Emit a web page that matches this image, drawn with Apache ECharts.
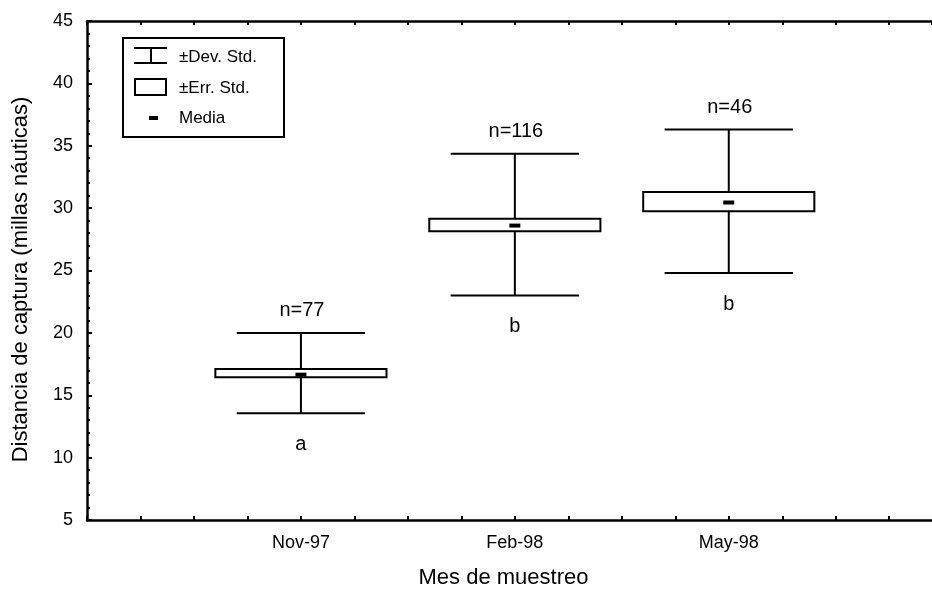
<!DOCTYPE html>
<html>
<head>
<meta charset="utf-8">
<script src="https://cdn.jsdelivr.net/npm/echarts@6/dist/echarts.min.js"></script>
<style>
  html, body { margin: 0; padding: 0; background: #fff; }
  #chart { width: 932px; height: 594px; }
</style>
</head>
<body>
<div id="chart"></div>
<script>
// Sampling months and where they sit along the x scale
const months = ['Nov-97', 'Feb-98', 'May-98'];
const monthPos = [4, 8, 12];

// Capture distance summaries (nautical miles)
const means  = [16.65, 28.6, 30.45];
const seLow  = [16.45, 28.15, 29.75];
const seHigh = [17.1, 29.15, 31.3];
const sdLow  = [13.55, 23.0, 24.8];
const sdHigh = [20.0, 34.35, 36.3];

// Sample sizes and significance groups
const nLabels = ['n=77', 'n=116', 'n=46'];
const groups  = ['a', 'b', 'b'];

// Y axis tick range
const yMin = 5, yMax = 45, yStep = 5;

const FONT = '"Liberation Sans", Arial, sans-serif';
const CAP_HALF = 1.2;   // whisker cap half-width (x units)
const BOX_HALF = 1.6;   // std-error box half-width (x units)

const whiskerData = months.map((m, i) => [monthPos[i], sdLow[i], sdHigh[i], i]);
const boxData     = months.map((m, i) => [monthPos[i], seLow[i], seHigh[i], i]);
const meanData    = months.map((m, i) => [monthPos[i], means[i]]);

const labelByPos = {};
monthPos.forEach((p, i) => { labelByPos[p] = months[i]; });

const chart = echarts.init(document.getElementById('chart'), null, { renderer: 'canvas' });

const lineStyle = { stroke: '#000', lineWidth: 2 };

chart.setOption({
  animation: false,
  backgroundColor: '#fff',
  textStyle: { fontFamily: FONT, color: '#000' },
  grid: { left: 87, top: 21, right: 0, height: 502, containLabel: false },
  xAxis: [
    {
      type: 'value', position: 'bottom', min: 0, max: 15.8, interval: 1,
      axisLine: { show: true, onZero: false, lineStyle: { color: '#000', width: 2.5 } },
      axisTick: { show: true, inside: true, length: 4, lineStyle: { color: '#000', width: 2 } },
      axisLabel: {
        show: true, margin: 14, fontSize: 18, color: '#000', fontFamily: FONT,
        showMaxLabel: false,
        formatter: v => labelByPos[v] || ''
      },
      splitLine: { show: false },
      name: 'Mes de muestreo', nameLocation: 'middle', nameGap: 47,
      nameTextStyle: { fontSize: 22, color: '#000', fontFamily: FONT, padding: [0, 12, 0, 0] }
    },
    {
      type: 'value', position: 'top', min: 0, max: 15.8, interval: 1,
      axisLine: { show: true, onZero: false, lineStyle: { color: '#000', width: 2.5 } },
      axisTick: { show: true, inside: true, length: 4, lineStyle: { color: '#000', width: 2 } },
      axisLabel: { show: false },
      splitLine: { show: false }
    }
  ],
  yAxis: {
    type: 'value', min: yMin, max: yMax, interval: yStep,
    axisLine: { show: true, onZero: false, lineStyle: { color: '#000', width: 2.5 } },
    axisTick: { show: true, inside: true, length: 5, lineStyle: { color: '#000', width: 2 } },
    minorTick: { show: true, splitNumber: 5, length: 3, lineStyle: { color: '#000', width: 2 } },
    axisLabel: { margin: 14, fontSize: 18, color: '#000', fontFamily: FONT },
    splitLine: { show: false },
    name: 'Distancia de captura (millas náuticas)', nameLocation: 'middle', nameGap: 55,
    nameTextStyle: { fontSize: 22, color: '#000', fontFamily: FONT, padding: [0, 18, 0, 0] }
  },
  series: [
    {
      // ± standard deviation whiskers, with sample size above and group letter below
      type: 'custom', xAxisIndex: 0,
      data: whiskerData,
      renderItem: (params, api) => {
        const x = api.value(0), lo = api.value(1), hi = api.value(2), i = api.value(3);
        const top = api.coord([x, hi]), bot = api.coord([x, lo]);
        const lt = api.coord([x - CAP_HALF, hi]), rt = api.coord([x + CAP_HALF, hi]);
        const lb = api.coord([x - CAP_HALF, lo]), rb = api.coord([x + CAP_HALF, lo]);
        return {
          type: 'group',
          children: [
            { type: 'line', shape: { x1: top[0], y1: top[1], x2: bot[0], y2: bot[1] }, style: lineStyle },
            { type: 'line', shape: { x1: lt[0], y1: lt[1], x2: rt[0], y2: rt[1] }, style: lineStyle },
            { type: 'line', shape: { x1: lb[0], y1: lb[1], x2: rb[0], y2: rb[1] }, style: lineStyle },
            { type: 'text', x: top[0] + 1, y: top[1] - 12,
              style: { text: nLabels[i], fill: '#000', font: '20px ' + FONT, align: 'center', verticalAlign: 'bottom' } },
            { type: 'text', x: bot[0], y: bot[1] + 21,
              style: { text: groups[i], fill: '#000', font: '20px ' + FONT, align: 'center', verticalAlign: 'top' } }
          ]
        };
      },
      z: 2
    },
    {
      // ± standard error boxes
      type: 'custom', xAxisIndex: 0,
      data: boxData,
      renderItem: (params, api) => {
        const x = api.value(0), lo = api.value(1), hi = api.value(2);
        const p1 = api.coord([x - BOX_HALF, hi]), p2 = api.coord([x + BOX_HALF, lo]);
        return {
          type: 'rect',
          shape: { x: p1[0], y: p1[1], width: p2[0] - p1[0], height: p2[1] - p1[1] },
          style: { fill: '#fff', stroke: '#000', lineWidth: 2 }
        };
      },
      z: 3
    },
    {
      // mean markers
      type: 'custom', xAxisIndex: 0,
      data: meanData,
      renderItem: (params, api) => {
        const c = api.coord([api.value(0), api.value(1)]);
        return {
          type: 'rect',
          shape: { x: c[0] - 5.5, y: c[1] - 2, width: 11, height: 4 },
          style: { fill: '#000' }
        };
      },
      z: 4
    }
  ],
  graphic: [
    {
      type: 'group', left: 122, top: 37,
      children: [
        { type: 'rect', shape: { x: 0, y: 0, width: 161, height: 99 },
          style: { fill: '#fff', stroke: '#000', lineWidth: 2 } },
        // std-dev icon
        { type: 'line', shape: { x1: 11, y1: 10, x2: 44, y2: 10 }, style: lineStyle },
        { type: 'line', shape: { x1: 11, y1: 25, x2: 44, y2: 25 }, style: lineStyle },
        { type: 'line', shape: { x1: 28, y1: 10, x2: 28, y2: 25 }, style: lineStyle },
        { type: 'text', x: 56, y: 19,
          style: { text: '±Dev. Std.', fill: '#000', font: '17px ' + FONT, verticalAlign: 'middle' } },
        // std-err icon
        { type: 'rect', shape: { x: 12, y: 41, width: 31, height: 16 },
          style: { fill: '#fff', stroke: '#000', lineWidth: 2 } },
        { type: 'text', x: 56, y: 50,
          style: { text: '±Err. Std.', fill: '#000', font: '17px ' + FONT, verticalAlign: 'middle' } },
        // mean icon
        { type: 'rect', shape: { x: 26, y: 78, width: 9, height: 4 }, style: { fill: '#000' } },
        { type: 'text', x: 56, y: 80,
          style: { text: 'Media', fill: '#000', font: '17px ' + FONT, verticalAlign: 'middle' } }
      ]
    }
  ]
});
</script>
</body>
</html>
